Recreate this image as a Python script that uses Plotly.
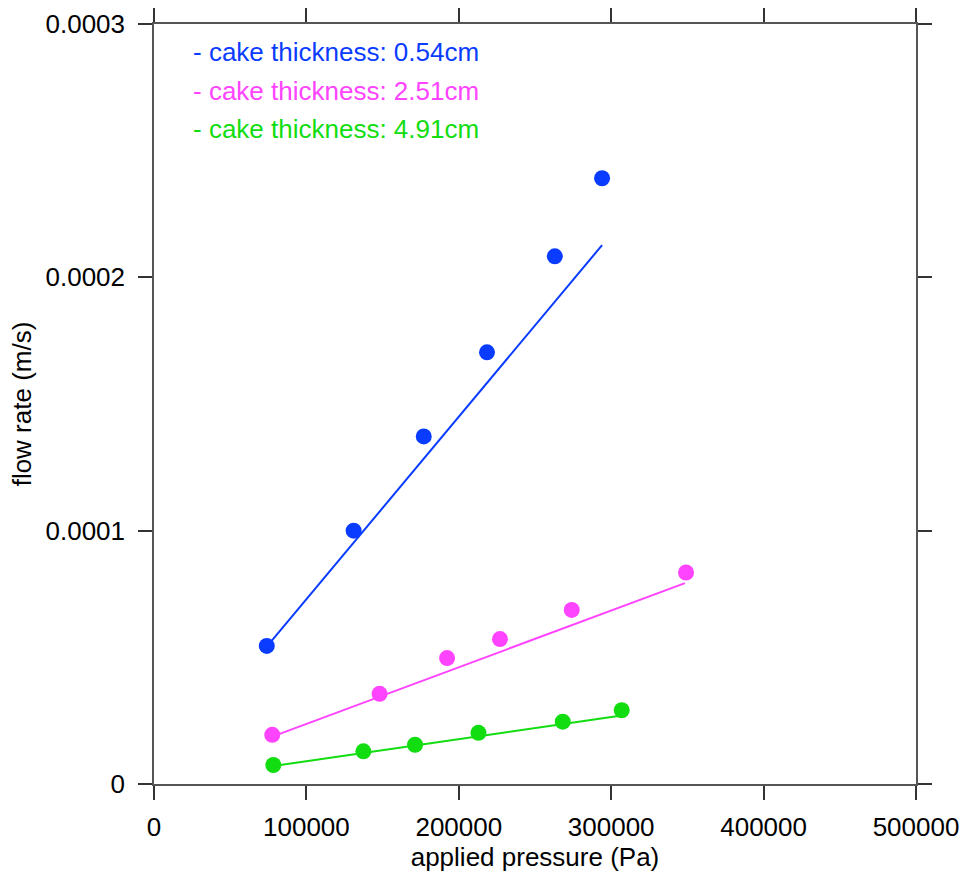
import plotly.graph_objects as go

# ---- data ----
series_names = ["- cake thickness: 0.54cm", "- cake thickness: 2.51cm", "- cake thickness: 4.91cm"]
series_colors = ["#0a3cff", "#ff44ff", "#11dd11"]

blue_x = [74000, 131000, 177000, 218500, 263000, 294000]
blue_y = [5.45e-5, 1.00e-4, 1.372e-4, 1.704e-4, 2.083e-4, 2.391e-4]
blue_fit_x = [74000, 294000]
blue_fit_y = [5.42e-5, 2.127e-4]

pink_x = [77600, 148000, 192300, 227000, 274100, 349100]
pink_y = [1.94e-5, 3.56e-5, 4.97e-5, 5.72e-5, 6.87e-5, 8.35e-5]
pink_fit_x = [77600, 348400]
pink_fit_y = [1.87e-5, 7.93e-5]

green_x = [78300, 137400, 171300, 212900, 268200, 306900]
green_y = [0.75e-5, 1.29e-5, 1.55e-5, 2.02e-5, 2.46e-5, 2.91e-5]
green_fit_x = [78300, 305800]
green_fit_y = [0.71e-5, 2.69e-5]

x_tickvals = [0, 100000, 200000, 300000, 400000, 500000]
x_ticktext = ["0", "100000", "200000", "300000", "400000", "500000"]
y_tickvals = [0, 0.0001, 0.0002, 0.0003]
y_ticktext = ["0", "0.0001", "0.0002", "0.0003"]

FONT = "Liberation Sans, Arial, Helvetica, sans-serif"
FS = 26

fig = go.Figure()
pts = [(blue_x, blue_y), (pink_x, pink_y), (green_x, green_y)]
fits = [(blue_fit_x, blue_fit_y), (pink_fit_x, pink_fit_y), (green_fit_x, green_fit_y)]
for (px, py), (fx, fy), c, n in zip(pts, fits, series_colors, series_names):
    fig.add_trace(go.Scatter(x=fx, y=fy, mode="lines", line=dict(color=c, width=2),
                             showlegend=False, hoverinfo="skip"))
    fig.add_trace(go.Scatter(x=px, y=py, mode="markers", name=n,
                             marker=dict(color=c, size=16, line=dict(width=0)),
                             showlegend=False))

for i, (n, c) in enumerate(zip(series_names, series_colors)):
    fig.add_annotation(xref="paper", yref="paper", x=0.049, y=0.963 - i * 0.0505,
                       xanchor="left", yanchor="middle", showarrow=False,
                       text=n, font=dict(family=FONT, size=FS, color=c))

axis_common = dict(showgrid=False, zeroline=False, showline=True, linecolor="#555555",
                   linewidth=1.5, ticks="outside", ticklen=14, tickwidth=1.5,
                   tickcolor="#333333", mirror="ticks", automargin=False,
                   tickfont=dict(family=FONT, size=FS, color="black"))

fig.update_xaxes(range=[0, 500000], tickvals=x_tickvals, ticktext=x_ticktext,
                 title=dict(text="applied pressure (Pa)", font=dict(family=FONT, size=FS, color="black"),
                            standoff=4),
                 ticklabelstandoff=5, **axis_common)
fig.update_yaxes(range=[0, 0.0003], tickvals=y_tickvals, ticktext=y_ticktext,
                 title=dict(text="flow rate (m/s)", font=dict(family=FONT, size=FS, color="black"),
                            standoff=6),
                 ticklabelstandoff=8, **axis_common)

fig.update_layout(width=961, height=878, margin=dict(l=154, r=45, t=24, b=94),
                  paper_bgcolor="white", plot_bgcolor="white",
                  font=dict(family=FONT, size=FS, color="black"))

fig.write_html("out.html")
